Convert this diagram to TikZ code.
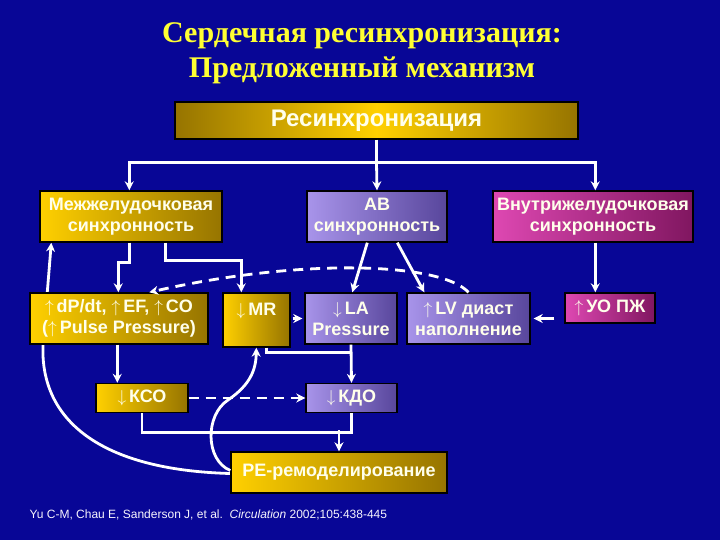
\documentclass[tikz,border=0pt]{standalone}
\usepackage{fontspec}
\setmainfont{Liberation Serif}
\setsansfont{Liberation Sans}
\usetikzlibrary{arrows.meta,calc,backgrounds}
\definecolor{slidebg}{RGB}{8,6,150}
\definecolor{goldL}{RGB}{255,208,0}
\definecolor{goldD}{RGB}{150,116,0}
\definecolor{lilacL}{RGB}{168,148,234}
\definecolor{lilacD}{RGB}{88,70,156}
\definecolor{pinkL}{RGB}{222,72,178}
\definecolor{pinkD}{RGB}{128,22,96}
\definecolor{titleyel}{RGB}{255,255,51}
\definecolor{boxtext}{RGB}{255,255,235}
\newcommand{\upa}{$\uparrow$\,}
\newcommand{\dna}{$\downarrow$\,}
\tikzset{
  box/.style={draw=black,line width=1.4pt,align=center,inner sep=0pt,
    text=boxtext,font=\sffamily\bfseries\fontsize{18}{21}\selectfont},
  gold/.style={box,left color=goldL,right color=goldD},
  lilac/.style={box,left color=lilacL,right color=lilacD},
  pink/.style={box,left color=pinkL,right color=pinkD},
  sz/.style 2 args={minimum width=#1pt,minimum height=#2pt},
  link/.style={draw=white,line width=2.8pt},
  arr/.style={link,-{Stealth[length=9pt,width=9pt]}},
  dashlink/.style={dash pattern=on 10pt off 7pt}}
\begin{document}
\begin{tikzpicture}[x=1pt,y=-1pt]
  \useasboundingbox (0,0) rectangle (720,540);
  % title
  \node[font=\bfseries\fontsize{30}{35}\selectfont,text=titleyel,align=center]
    (title) at (362,53) {Сердечная ресинхронизация:\\Предложенный механизм};
  % boxes
  \node[gold,sz={403}{37},font=\sffamily\bfseries\fontsize{24}{26}\selectfont,
    left color=goldD,right color=goldD,middle color=goldL]
    (resync) at (376.5,120.5) {Ресинхронизация};
  \node[gold,sz={182}{51}]  (inter) at (131,216.5) {Межжелудочковая\\синхронность};
  \node[lilac,sz={140}{51}] (av)    at (377,216.5) {АВ\\синхронность};
  \node[pink,sz={200}{51}]  (intra) at (593,216.5) {Внутрижелудочковая\\синхронность};
  \node[gold,sz={178}{51}]  (dpdt)  at (119,318.5) {\upa dP/dt, \upa EF, \upa CO\\(\upa Pulse Pressure)};
  \node[gold,sz={67}{54}]   (mr)    at (256.5,320) {\dna MR\\\phantom{M}};
  \node[lilac,sz={92}{51}]  (la)    at (351,318.5) {\dna LA\\Pressure};
  \node[lilac,sz={123}{51}] (lv)    at (468.5,318.5) {\upa LV диаст\\наполнение};
  \node[pink,sz={90}{30}]   (rvsv)  at (610,308) {\upa УО ПЖ};
  \node[gold,sz={92}{29}]   (kso)   at (142,398) {\dna КСО};
  \node[lilac,sz={91}{29}]  (kdo)   at (351.5,398) {\dna КДО};
  \node[gold,sz={216}{41}]  (remod) at (339,472.5) {РЕ-ремоделирование};
  \node[anchor=west,text=white!90!lilacL,font=\sffamily\fontsize{12}{14}\selectfont]
    (cite) at (26,515) {Yu C-M, Chau E, Sanderson J, et al.\ \ \textit{Circulation} 2002;105:438-445};
  % connectors
  \draw[link] (resync.south) -- ++(0,23) coordinate (hub);
  \draw[arr] (hub) -| ($(inter.north west)+(90,0)$);
  \draw[arr] (hub) -| ($(intra.north west)+(103,0)$);
  \draw[arr] (hub) -- (av.north);
  \draw[arr] ($(inter.south west)+(90,0)$) -- ++(0,20) -| ($(dpdt.north west)+(89,0)$);
  \draw[arr] ($(inter.south west)+(126,0)$) -- ++(0,18) -| ($(mr.north west)+(19,0)$);
  \draw[arr] ($(av.south west)+(61,0)$) -- ($(la.north west)+(48,0)$);
  \draw[arr] ($(av.south west)+(91,0)$) -- ($(lv.north west)+(18,0)$);
  \draw[arr] ($(intra.south west)+(103,0)$) -- ($(rvsv.north west)+(31,0)$);
  \draw[arr,dashlink] (lv.north) .. controls (440,262) and (300,258) .. ($(dpdt.north west)+(120,0)$);
  \draw[arr,shorten <=10pt,shorten >=3pt] (rvsv.west |- lv.east) -- (lv.east);
  \draw[arr,shorten <=2pt,shorten >=2pt] (mr.east |- la.west) -- (la.west);
  \draw[link] ($(mr.south west)+(44,0)$) |- ($(la.south)+(0,8)$);
  \draw[arr] (la.south) -- (kdo.north);
  \draw[arr] ($(dpdt.south west)+(88,0)$) -- ($(kso.north west)+(22,0)$);
  \draw[arr,dashlink] (kso.east) -- (kdo.west);
  \draw[link] (kso.south) |- ($(kdo.south)+(0,19)$) -- (kdo.south);
  \draw[arr] ($(remod.north)+(0,-21)$) -- (remod.north);
  \draw[arr] ($(remod.west)+(0,-2)$) .. controls (205,460) and (205,415) .. (228,400)
    .. controls (250,385) and (256,370) .. ($(mr.south west)+(34,0)$);
  \begin{pgfonlayer}{background}
    \fill[slidebg] (0,0) rectangle (720,540);
    % feedback loop behind the dP/dt box
    \draw[arr] ($(remod.west)+(0,1)$) .. controls (100,470) and (40,420) .. (43,345)
      -- ($(inter.south west)+(12,0)$);
  \end{pgfonlayer}
\end{tikzpicture}
\end{document}
